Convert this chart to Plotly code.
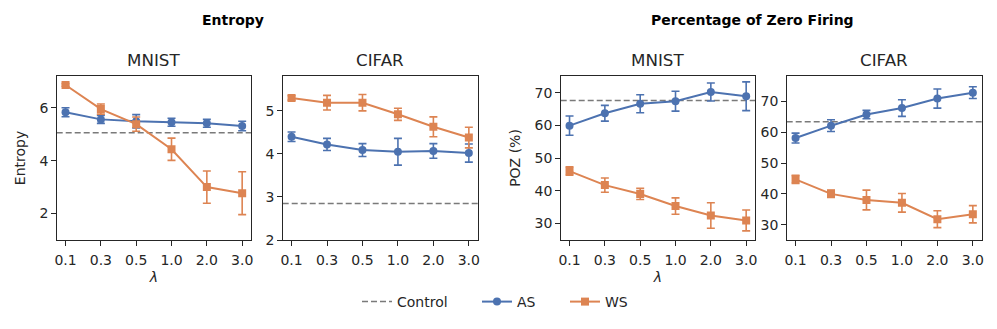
import plotly.graph_objects as go

lambdas = ["0.1", "0.3", "0.5", "1.0", "2.0", "3.0"]

ent_mnist_as = [5.83, 5.56, 5.49, 5.45, 5.41, 5.31]
ent_mnist_as_err = [0.17, 0.15, 0.25, 0.15, 0.15, 0.18]
ent_mnist_ws = [6.86, 5.95, 5.38, 4.43, 3.00, 2.77]
ent_mnist_ws_err = [0.05, 0.19, 0.27, 0.42, 0.61, 0.81]
ent_mnist_ctrl = 5.05

ent_cifar_as = [4.40, 4.22, 4.09, 4.05, 4.07, 4.02]
ent_cifar_as_err = [0.11, 0.14, 0.15, 0.31, 0.17, 0.21]
ent_cifar_ws = [5.30, 5.19, 5.19, 4.92, 4.63, 4.38]
ent_cifar_ws_err = [0.05, 0.17, 0.19, 0.14, 0.23, 0.24]
ent_cifar_ctrl = 2.85

poz_mnist_as = [59.9, 63.7, 66.6, 67.4, 70.2, 68.9]
poz_mnist_as_err = [2.95, 2.4, 2.75, 3.05, 2.75, 4.4]
poz_mnist_ws = [46.0, 41.7, 39.0, 35.3, 32.4, 30.9]
poz_mnist_ws_err = [1.3, 2.2, 1.7, 2.5, 3.9, 3.2]
poz_mnist_ctrl = 67.6

poz_cifar_as = [58.1, 62.1, 65.7, 67.8, 70.9, 72.8]
poz_cifar_as_err = [1.6, 1.9, 1.35, 2.7, 3.1, 1.9]
poz_cifar_ws = [44.7, 40.0, 38.0, 37.1, 31.8, 33.4]
poz_cifar_ws_err = [1.3, 1.2, 3.2, 3.0, 2.75, 2.8]
poz_cifar_ctrl = 63.4

AS_COLOR = "#4C72B0"
WS_COLOR = "#DD8452"
CTRL_COLOR = "#7a7a7a"
FONT = "DejaVu Sans"

W, H = 997, 329

def px_x(p):
    return p / W

def px_y(p):
    return 1 - p / H

panels = [
    dict(x0=56.7, x1=251.0, yr=[1.0, 7.2], ticks=[2, 4, 6],
         as_=ent_mnist_as, as_e=ent_mnist_as_err, ws=ent_mnist_ws, ws_e=ent_mnist_ws_err,
         ctrl=ent_mnist_ctrl, title="MNIST", ylabel="Entropy", xlabel=True),
    dict(x0=282.7, x1=477.7, yr=[2.0, 5.81], ticks=[2, 3, 4, 5],
         as_=ent_cifar_as, as_e=ent_cifar_as_err, ws=ent_cifar_ws, ws_e=ent_cifar_ws_err,
         ctrl=ent_cifar_ctrl, title="CIFAR", ylabel=None, xlabel=False),
    dict(x0=560.7, x1=755.0, yr=[24.9, 75.1], ticks=[30, 40, 50, 60, 70],
         as_=poz_mnist_as, as_e=poz_mnist_as_err, ws=poz_mnist_ws, ws_e=poz_mnist_ws_err,
         ctrl=poz_mnist_ctrl, title="MNIST", ylabel="POZ (%)", xlabel=True),
    dict(x0=786.7, x1=981.7, yr=[25.05, 78.2], ticks=[30, 40, 50, 60, 70],
         as_=poz_cifar_as, as_e=poz_cifar_as_err, ws=poz_cifar_ws, ws_e=poz_cifar_ws_err,
         ctrl=poz_cifar_ctrl, title="CIFAR", ylabel=None, xlabel=False),
]

y_top, y_bot = 76.0, 240.0
xpos = list(range(len(lambdas)))

fig = go.Figure()

def legend_at(xpx):
    return dict(orientation="h", x=px_x(xpx), xanchor="left", y=px_y(302), yanchor="middle",
                font=dict(size=14, family=FONT, color="#262626"),
                itemwidth=30, bgcolor="rgba(0,0,0,0)", borderwidth=0)

layout = dict(
    width=W, height=H,
    margin=dict(l=0, r=0, t=0, b=0, autoexpand=False),
    paper_bgcolor="white", plot_bgcolor="white",
    font=dict(family=FONT, size=14, color="#262626"),
    showlegend=True,
    legend=legend_at(357),
    legend2=legend_at(477),
    legend3=legend_at(565),
)
annotations = []
shapes = []

fig.add_trace(go.Scatter(x=[None], y=[None], mode="lines", name="Control", legend="legend",
                         line=dict(color=CTRL_COLOR, width=1.5, dash="6px,3px"),
                         showlegend=True))

for i, p in enumerate(panels):
    n = i + 1
    xa = "x" if n == 1 else f"x{n}"
    ya = "y" if n == 1 else f"y{n}"
    axis_common = dict(showline=True, linecolor="#262626", linewidth=1.1, mirror=True,
                       ticks="outside", ticklen=4.5, tickwidth=1.1, tickcolor="#262626",
                       showgrid=False, zeroline=False, automargin=False,
                       tickfont=dict(size=14, family=FONT, color="#262626"))
    layout[f"xaxis{'' if n == 1 else n}"] = dict(
        domain=[px_x(p["x0"]), px_x(p["x1"])], anchor=ya,
        range=[-0.25, len(lambdas) - 1 + 0.25],
        tickvals=xpos, ticktext=lambdas, ticklabelstandoff=3,
        title=dict(text="<i>λ</i>" if p["xlabel"] else "", font=dict(size=14, family=FONT),
                   standoff=4),
        **axis_common)
    layout[f"yaxis{'' if n == 1 else n}"] = dict(
        domain=[px_y(y_bot), px_y(y_top)], anchor=xa,
        range=p["yr"], tickvals=p["ticks"],
        title=dict(text=p["ylabel"] or "", font=dict(size=14, family=FONT), standoff=10),
        **axis_common)

    fig.add_trace(go.Scatter(
        x=xpos, y=p["as_"], xaxis=xa, yaxis=ya, mode="lines+markers", name="AS",
        legend="legend2", legendgroup="AS", showlegend=(i == 0),
        line=dict(color=AS_COLOR, width=2), marker=dict(symbol="circle", size=8, color=AS_COLOR),
        error_y=dict(type="data", array=p["as_e"], visible=True, color=AS_COLOR,
                     thickness=1.6, width=4)))
    fig.add_trace(go.Scatter(
        x=xpos, y=p["ws"], xaxis=xa, yaxis=ya, mode="lines+markers", name="WS",
        legend="legend3", legendgroup="WS", showlegend=(i == 0),
        line=dict(color=WS_COLOR, width=2), marker=dict(symbol="square", size=8, color=WS_COLOR),
        error_y=dict(type="data", array=p["ws_e"], visible=True, color=WS_COLOR,
                     thickness=1.6, width=4)))

    shapes.append(dict(type="line", xref=f"{xa} domain", yref=ya, x0=0, x1=1,
                       y0=p["ctrl"], y1=p["ctrl"],
                       line=dict(color=CTRL_COLOR, width=1.5, dash="6px,3px"), layer="below"))

    annotations.append(dict(text=p["title"], xref="paper", yref="paper",
                            x=(px_x(p["x0"]) + px_x(p["x1"])) / 2, y=px_y(y_top - 4),
                            xanchor="center", yanchor="bottom", showarrow=False,
                            font=dict(size=16.7, family=FONT, color="#262626")))

annotations.append(dict(text="<b>Entropy</b>", xref="paper", yref="paper",
                        x=px_x(233), y=px_y(20), xanchor="center", yanchor="middle",
                        showarrow=False, font=dict(size=14, family=FONT, color="black")))
annotations.append(dict(text="<b>Percentage of Zero Firing</b>", xref="paper", yref="paper",
                        x=px_x(752.7), y=px_y(20), xanchor="center", yanchor="middle",
                        showarrow=False, font=dict(size=14, family=FONT, color="black")))

layout["annotations"] = annotations
layout["shapes"] = shapes
fig.update_layout(**layout)
fig.write_html("out.html", config={"displayModeBar": False},
               post_script="document.body.style.margin='0px';")
